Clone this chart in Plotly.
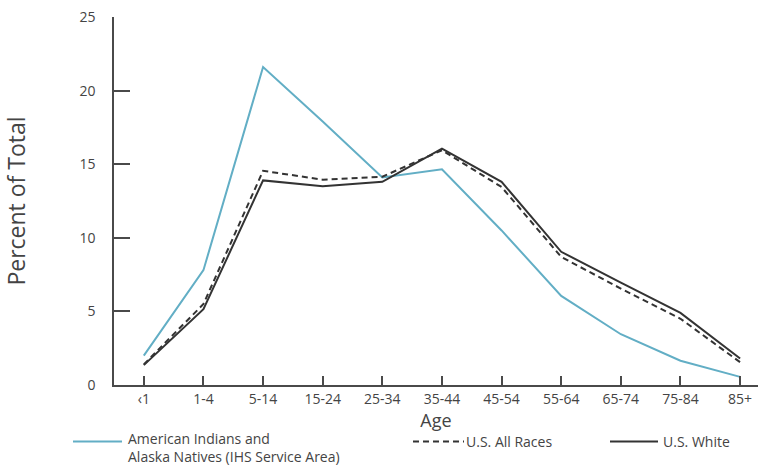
import plotly.graph_objects as go

ages = ["‹1", "1-4", "5-14", "15-24", "25-34", "35-44", "45-54", "55-64", "65-74", "75-84", "85+"]
aian = [2.0, 7.8, 21.6, 17.9, 14.1, 14.65, 10.5, 6.05, 3.45, 1.65, 0.55]
us_all = [1.4, 5.5, 14.55, 13.95, 14.15, 15.95, 13.45, 8.7, 6.55, 4.5, 1.55]
us_white = [1.35, 5.15, 13.9, 13.5, 13.8, 16.05, 13.8, 9.05, 6.95, 4.9, 1.8]

y_ticks = [0, 5, 10, 15, 20, 25]

BLUE = "#62aec5"
DARK = "#333333"
TXT = "#444444"
AX = "#4a4a4a"
FONT = "Open Sans"

x_idx = list(range(len(ages)))

fig = go.Figure()
fig.add_trace(go.Scatter(x=x_idx, y=aian, mode="lines", line=dict(color=BLUE, width=2),
                         name="American Indians and Alaska Natives (IHS Service Area)", showlegend=False))
fig.add_trace(go.Scatter(x=x_idx, y=us_all, mode="lines", line=dict(color=DARK, width=2, dash="6px,4px"),
                         name="U.S. All Races", showlegend=False))
fig.add_trace(go.Scatter(x=x_idx, y=us_white, mode="lines", line=dict(color=DARK, width=2),
                         name="U.S. White", showlegend=False))

fig.update_layout(
    width=758, height=468,
    margin=dict(l=114, r=0, t=17, b=83),
    paper_bgcolor="white", plot_bgcolor="white",
    font=dict(family=FONT, color=TXT, size=14),
    xaxis=dict(
        range=[-0.5, 10.3], tickmode="array", tickvals=x_idx, ticktext=ages,
        showgrid=False, zeroline=False, showline=True, linecolor=AX, linewidth=1.5,
        ticks="inside", ticklen=9, tickcolor=AX, tickwidth=1.5,
        tickfont=dict(size=14, color=TXT), ticklabelstandoff=0,
        title=dict(text="Age", font=dict(size=18, color=TXT), standoff=4),
    ),
    yaxis=dict(
        range=[0, 25], tickmode="array", tickvals=y_ticks,
        showgrid=False, zeroline=False, showline=True, linecolor=AX, linewidth=1.5,
        ticks="inside", ticklen=16, tickcolor=AX, tickwidth=1.5,
        tickfont=dict(size=14, color=TXT), ticklabelstandoff=14,
        title=dict(text="Percent of Total", font=dict(size=23, color=TXT), standoff=50),
    ),
)

# Legend drawn manually (samples + labels)
H = 468.0
W = 758.0
plot_w = W - 114
plot_h = H - 17 - 83

def fx(px):
    return (px - 114) / plot_w

def fy(py):
    return (H - 83 - py) / plot_h

legend_samples = [
    (73, 122, 441.5, dict(color=BLUE, width=2)),
    (413, 464, 441.5, dict(color=DARK, width=2, dash="6px,4px")),
    (610, 658, 441.5, dict(color=DARK, width=2)),
]
for x0, x1, yp, ln in legend_samples:
    fig.add_shape(type="line", xref="paper", yref="paper", x0=fx(x0), x1=fx(x1), y0=fy(yp), y1=fy(yp), line=ln)

fig.add_annotation(xref="paper", yref="paper", x=fx(127), y=fy(467.5),
                   text="American Indians and<br>Alaska Natives (IHS Service Area)",
                   showarrow=False, xanchor="left", yanchor="bottom", align="left",
                   borderpad=0, font=dict(size=14, color=TXT, family=FONT))
for tx, label in [(465, "U.S. All Races"), (662, "U.S. White")]:
    fig.add_annotation(xref="paper", yref="paper", x=fx(tx), y=fy(441),
                       text=label, showarrow=False, xanchor="left", yanchor="middle", align="left",
                       borderpad=0, font=dict(size=14, color=TXT, family=FONT))

fig.write_html("out.html", config={"displayModeBar": False},
               post_script="document.body.style.margin='0';document.body.style.overflow='hidden';")
